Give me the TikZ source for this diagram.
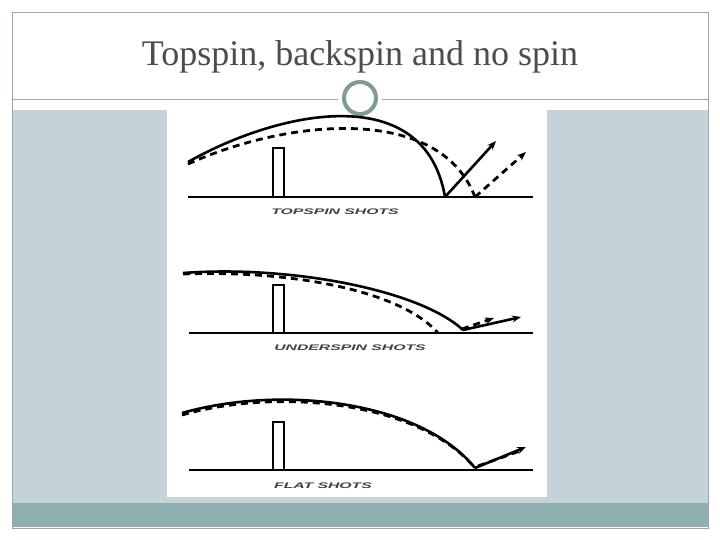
\documentclass[tikz,border=0pt]{standalone}
\usetikzlibrary{arrows.meta}
\usepackage{fontspec}
\setmainfont{Liberation Serif}
\newfontfamily\lbl{Liberation Sans}
\definecolor{panel}{HTML}{C5D3D8}
\definecolor{band}{HTML}{8FAFB0}
\definecolor{frame}{HTML}{9AA8AA}
\definecolor{ring}{HTML}{7F9A9A}
\begin{document}
\begin{tikzpicture}[x=1pt,y=-1pt,
  traj/.style={line width=2.6pt},
  dtraj/.style={line width=2.8pt,dash pattern=on 7pt off 5pt},
  arr/.style={-{Stealth[length=9pt,width=7pt]}},
  ground/.style={line width=2.4pt},
  post/.style={draw,line width=1.8pt,fill=white},
  lab/.style={font=\lbl\bfseries\itshape\fontsize{9}{10}\selectfont,text=black!75,xscale=1.75,yscale=0.9}]
\useasboundingbox (0,0) rectangle (720,540);
\fill[white] (0,0) rectangle (720,540);
\fill[panel] (12,110) rectangle (708,503);
\fill[band] (12,503) rectangle (708,527);
\draw[frame,line width=0.8pt] (12,12) rectangle (708,528);
\draw[frame,line width=1pt] (12,100) -- (708,100);
\node[font=\fontsize{36}{40}\selectfont,text=black!70] (title) at (360,57) {Topspin, backspin and no spin};
\fill[white] (167,110) rectangle (547,497);
\fill[white] (338,83) rectangle (382,108);
\node[draw=ring,line width=4pt,circle,minimum size=32pt,inner sep=0pt] (ring) at (360,98) {};
% topspin
\draw[ground] (188,197) -- (533,197);
\node[post,minimum width=11pt,minimum height=49pt,inner sep=0pt] (p1) at (278.5,172.5) {};
\draw[traj] (188,162) .. controls (280,110) and (425,80) .. (445,197);
\draw[traj,arr] (445,197) -- (496,141);
\draw[dtraj] (188,164) .. controls (290,118) and (440,105) .. (475,197);
\draw[dtraj,arr] (475,197) -- (526,152);
\node[lab] (l1) at (335,212) {TOPSPIN SHOTS};
% underspin
\draw[ground] (189,333) -- (533,333);
\node[post,minimum width=11pt,minimum height=48pt,inner sep=0pt] (p2) at (278.5,309) {};
\draw[traj] (183,273) .. controls (290,265) and (420,290) .. (463,330);
\draw[traj,arr] (463,330) -- (521,317);
\draw[dtraj] (183,274) .. controls (290,270) and (400,290) .. (438,333);
\draw[dtraj,arr] (462,329) -- (494,318);
\node[lab] (l2) at (350,348) {UNDERSPIN SHOTS};
% flat
\draw[ground] (189,470) -- (533,470);
\node[post,minimum width=11pt,minimum height=48pt,inner sep=0pt] (p3) at (278.5,446) {};
\draw[traj] (182,413) .. controls (280,385) and (420,400) .. (475,468);
\draw[dtraj] (182,415) .. controls (280,387) and (420,402) .. (475,468);
\draw[traj,arr] (475,468) -- (526,447);
\draw[dtraj] (478,466) -- (520,451);
\node[lab] (l3) at (323,486) {FLAT SHOTS};
\end{tikzpicture}
\end{document}
